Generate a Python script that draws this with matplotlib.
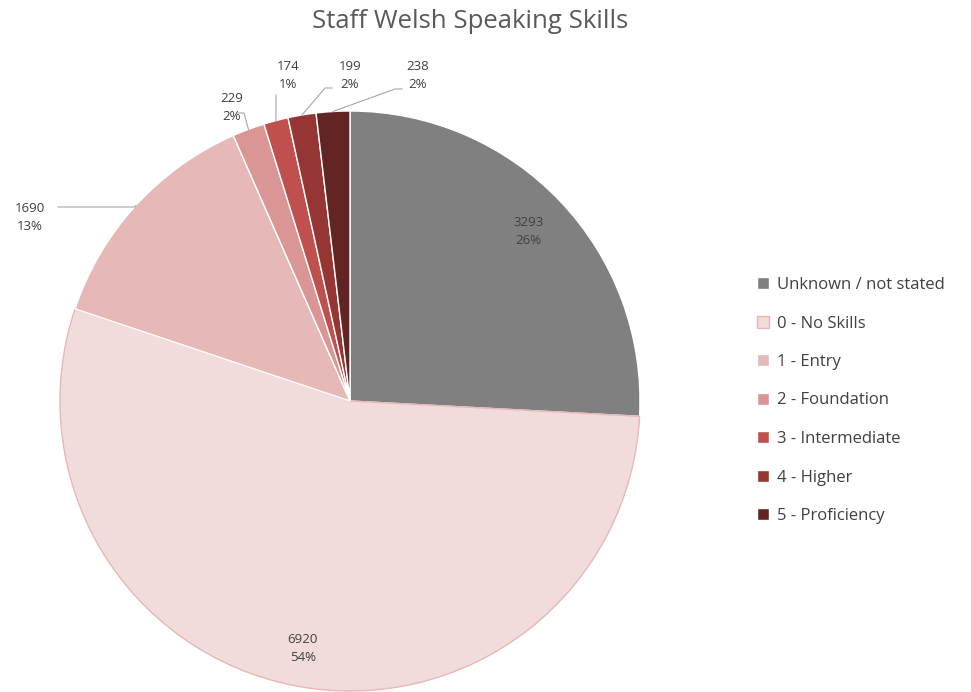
import numpy as np
import matplotlib
matplotlib.use('Agg')
import matplotlib.pyplot as plt

categories = ['Unknown / not stated', '0 - No Skills', '1 - Entry', '2 - Foundation',
              '3 - Intermediate', '4 - Higher', '5 - Proficiency']
counts = [3293, 6920, 1690, 229, 174, 199, 238]
pct_labels = ['26%', '54%', '13%', '2%', '1%', '2%', '2%']
colors = ['#808080', '#F2DCDB', '#E6B8B7', '#DA9694', '#C0504D', '#963634', '#632523']

plt.rcParams['font.family'] = ['Open Sans', 'DejaVu Sans']

W, H = 971, 692
fig = plt.figure(figsize=(W / 100, H / 100), dpi=100)
cx, cy, R = 350, 401, 290
ax = fig.add_axes([(cx - R) / W, (H - cy - R) / H, 2 * R / W, 2 * R / H])

wedges, _ = ax.pie(counts, colors=colors, startangle=90, counterclock=False,
                   radius=1.0, wedgeprops=dict(edgecolor='white', linewidth=1.0))
wedges[1].set_edgecolor('#E6B8B7')
ax.set_xlim(-1, 1)
ax.set_ylim(-1, 1)
ax.set_aspect('equal')
ax.axis('off')


def px(x, y):
    return (x - cx) / R, (cy - y) / R


def mid_angle(w):
    return np.deg2rad((w.theta1 + w.theta2) / 2)


lab_color = '#404040'
fs = 9.5

# inside labels
for i, r in [(0, 0.85), (1, 0.87)]:
    a = mid_angle(wedges[i])
    ax.text(r * np.cos(a), r * np.sin(a), f'{counts[i]}\n{pct_labels[i]}',
            ha='center', va='center', fontsize=fs, color=lab_color, linespacing=1.5)

# outside labels with leader lines: (index, elbow px, line end px, text px)
outside = [
    (2, (135, 207), (58, 207), (30, 217)),
    (3, (244, 113), (238, 113), (232, 107)),
    (4, (276, 95), (276, 95), (288, 76)),
    (5, (325, 88), (332, 88), (350, 76)),
    (6, (395, 89), (402, 89), (418, 76)),
]
for i, elbow, end, tpos in outside:
    a = mid_angle(wedges[i])
    x0, y0 = np.cos(a), np.sin(a)
    ex, ey = px(*elbow)
    fx, fy = px(*end)
    ax.plot([x0, ex, fx], [y0, ey, fy], color='#A6A6A6', lw=0.8, clip_on=False)
    tx, ty = px(*tpos)
    ax.text(tx, ty, f'{counts[i]}\n{pct_labels[i]}', ha='center', va='center',
            fontsize=fs, color=lab_color, linespacing=1.5)

fig.text(470 / W, 1 - 22 / H, 'Staff Welsh Speaking Skills', ha='center', va='center',
         fontsize=18.5, color='#595959')

leg = fig.legend(wedges, categories, loc='upper left', bbox_to_anchor=(742 / W, 1 - 262 / H),
                 frameon=False, fontsize=12, labelspacing=1.35, handlelength=0.7,
                 handleheight=0.7, handletextpad=0.5, labelcolor='#404040')

fig.savefig('out.png', dpi=100)
